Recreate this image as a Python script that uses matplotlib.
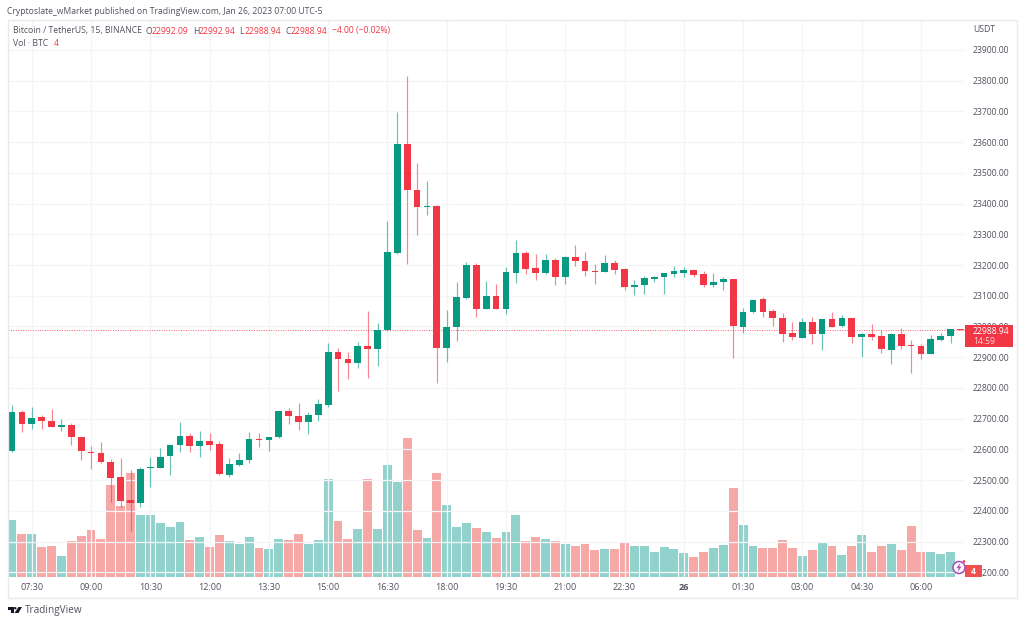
import matplotlib
matplotlib.use("Agg")
import matplotlib.pyplot as plt
from matplotlib.patches import Rectangle, Circle, Polygon

plt.rcParams['font.family'] = ['Open Sans', 'DejaVu Sans']

opens = [22595,22722,22682,22705,22693,22673,22678,22640,22593,22587,22559,22509,22434,22425,22538,22541,22577,22613,22642,22610,
         22628,22619,22517,22550,22564,22635,22630,22639,22724,22710,22689,22711,22744,22918,22895,22881,22935,22927,22987,23239,
         23594,23445,23390,23392,22931,22998,23094,23200,23058,23098,23058,23173,23239,23190,23175,23215,23161,23227,23214,23179,
         23177,23205,23186,23130,23134,23156,23160,23170,23174,23184,23170,23134,23146,23153,22998,23046,23088,23049,23028,22978,
         22962,23013,22977,23025,23000,23028,22965,22975,22968,22925,22975,22940,22936,22912,22957,22970,22992.09]
highs = [22744,22728,22739,22712,22730,22698,22687,22641,22611,22624,22568,22571,22533,22544,22575,22603,22615,22688,22654,22660,
         22652,22628,22571,22587,22655,22652,22641,22724,22734,22750,22721,22764,22947,22929,22918,22948,23049,23010,23344,23698,
         23816,23531,23473,23394,23052,23144,23210,23205,23148,23138,23194,23281,23244,23237,23236,23222,23228,23265,23241,23202,
         23231,23215,23189,23152,23163,23165,23175,23197,23194,23185,23179,23173,23162,23153,23059,23091,23096,23056,23045,23013,
         23026,23031,23025,23047,23036,23029,22980,23007,22989,22978,22994,22956,22943,22972,22980,22993,22992.94]
lows = [22593,22656,22665,22667,22672,22661,22615,22564,22536,22555,22430,22413,22334,22413,22479,22540,22517,22591,22591,22576,
        22598,22518,22510,22546,22556,22609,22596,22638,22684,22663,22651,22692,22737,22790,22830,22866,22833,22871,22985,23237,
        23203,23299,23362,22816,22884,22953,23090,23031,23058,23056,23041,23141,23171,23151,23172,23134,23139,23198,23165,23137,
        23177,23170,23120,23102,23106,23144,23106,23162,23161,23162,23130,23128,23120,22897,22980,23045,23031,23003,22951,22957,
        22961,22943,22923,22998,22999,22945,22900,22955,22914,22879,22926,22850,22895,22910,22954,22947,22988.94]
closes = [22722,22683,22703,22692,22673,22678,22639,22594,22587,22558,22508,22433,22425,22537,22543,22575,22614,22642,22610,22628,
          22615,22519,22551,22565,22635,22629,22640,22724,22709,22689,22712,22748,22918,22895,22881,22936,22928,22987,23241,23594,
          23445,23389,23393,22929,22999,23095,23200,23056,23098,23056,23176,23239,23187,23175,23215,23161,23227,23213,23179,23177,
          23205,23184,23130,23136,23157,23162,23173,23179,23184,23169,23134,23146,23153,23003,23047,23086,23048,23026,22977,22965,
          23013,22977,23023,22999,23028,22965,22975,22967,22927,22974,22938,22935,22912,22958,22970,22992,22988.94]
volumes = [1700,1280,1280,900,930,620,1080,1220,1390,1130,2740,2120,3110,1850,1850,1610,1480,1630,1100,1190,
           900,1240,1060,980,1190,860,820,1130,1100,1280,980,1100,2930,1680,1130,1420,2930,1440,3350,2850,
           4170,1390,1150,3100,2140,1500,1610,1460,1330,1150,1350,1850,1060,1190,1130,1080,990,930,990,800,
           820,820,1020,930,930,730,880,820,710,600,750,860,950,2650,1550,930,860,860,1090,860,
           620,800,1040,930,660,910,1240,730,910,970,800,1530,730,750,690,730,4]
time_positions = [2,8,14,20,26,32,38,44,50,56,62,68,74,80,86,92]
time_labels = ['07:30','09:00','10:30','12:00','13:30','15:00','16:30','18:00','19:30','21:00','22:30','26','01:30','03:00','04:30','06:00']
price_ticks = list(range(22200,24000,100))

RED='#F23645'; GREEN='#089981'; VRED='#EF5350'; VGREEN='#26A69A'
GRID='#F4F5F7'; TXT='#50535E'
FS=6.25

fig = plt.figure(figsize=(10.24,6.23), dpi=100)
ax = fig.add_axes([8/1024,(623-578)/623,957/1024,558/623])
ax.set_xlim(-0.405,96.46)
ax.set_ylim(22181.4,23997.4)
for s in ax.spines.values(): s.set_visible(False)

vol = ax.twinx()
vol.set_ylim(-39,16701)
vol.axis('off')
vol.set_zorder(1)
ax.set_zorder(2); ax.patch.set_visible(False)

ax.set_yticks(price_ticks)
ax.set_yticklabels([f'{p}.00' for p in price_ticks if True], fontsize=FS, color=TXT)
ax.set_ylim(22181.4,23997.4)
ax.yaxis.tick_right()
ax.tick_params(axis='y', length=0, pad=5.6)
ax.set_xticks(time_positions)
ax.set_xticklabels(time_labels, fontsize=6.5, color=TXT)
ax.get_xticklabels()[time_labels.index('26')].set_fontweight('bold')
ax.tick_params(axis='x', length=0, pad=3.5)
ax.grid(True, color=GRID, lw=0.9)
ax.set_axisbelow(True)

vol.bar(range(len(volumes)), volumes, width=0.9,
        color=[VGREEN if c>=o else VRED for o,c in zip(opens,closes)], alpha=0.5, lw=0)

for i,(o,h,l,c) in enumerate(zip(opens,highs,lows,closes)):
    up = c>=o
    col = GREEN if up else RED
    ax.vlines(i, l, h, color=col, lw=0.85, alpha=0.6, zorder=3)
    ax.bar(i, max(abs(c-o),2), bottom=min(o,c), width=0.68, color=col, lw=0, zorder=4)
ax.axhline(closes[-1], color=RED, lw=0.7, ls=(0,(1,1.5)), alpha=0.8, zorder=2)

ov = fig.add_axes([0,0,1,1], zorder=5)
ov.set_xlim(0,1024); ov.set_ylim(623,0); ov.axis('off'); ov.patch.set_visible(False)
ov.add_patch(Rectangle((7.5,19.5),1009,578,fill=False,ec='#E9EAED',lw=1))

def T(x,y,s,c=TXT,fs=FS,**k):
    ov.text(x,y,s,color=c,fontsize=fs,va='center',ha=k.pop('ha','left'),**k)

T(7,11,'Cryptoslate_wMarket published on TradingView.com, Jan 26, 2023 07:00 UTC-5','#50535E')
T(13,31,'Bitcoin / TetherUS, 15, BINANCE')
for xl,xv,lab,v in [(146,152,'O','22992.09'),(193,199,'H','22992.94'),(239,245,'L','22988.94'),(285,291,'C','22988.94')]:
    T(xl,31,lab); T(xv,31,v,RED)
T(332,31,'\u22124.00 (\u22120.02%)',RED)
T(13,43.5,'Vol \u00b7 BTC'); T(54,43.5,'4',RED)
T(973,30,'USDT')

ov.add_patch(Rectangle((965,324.5),48,22.5,fc=RED,ec='none'))
T(973,331,'22988.94','white')
T(973,341,'14:59','#FBD5D8')
ov.add_patch(Rectangle((965,565),17,12,fc='#F0504F',ec='none'))
T(973.5,571,'4','white',ha='center',fontweight='bold')
ov.add_patch(Circle((959,567.5),6,fc='white',ec='#AB47BC',lw=1.1))
ov.add_patch(Polygon([(960.5,562.5),(956.5,568.2),(958.8,568.2),(957.5,572.5),(961.5,566.6),(959.2,566.6)],fc='#AB47BC',ec='none'))
ov.add_patch(Circle((964,561.5),1.3,fc=RED,ec='none'))

# TradingView mark
logo='#131722'
ov.add_patch(Polygon([(7.5,607),(13.5,607),(13.5,613),(10.5,613),(10.5,609.5),(7.5,609.5)],fc=logo,ec='none'))
ov.add_patch(Circle((15.3,608.2),1.2,fc=logo,ec='none'))
ov.add_patch(Polygon([(18.5,607),(22,607),(18.5,613),(14.5,613)],fc=logo,ec='none'))
T(25,610.5,'TradingView','#50535E',7.2)

fig.savefig('out.png', dpi=100, facecolor='white')
